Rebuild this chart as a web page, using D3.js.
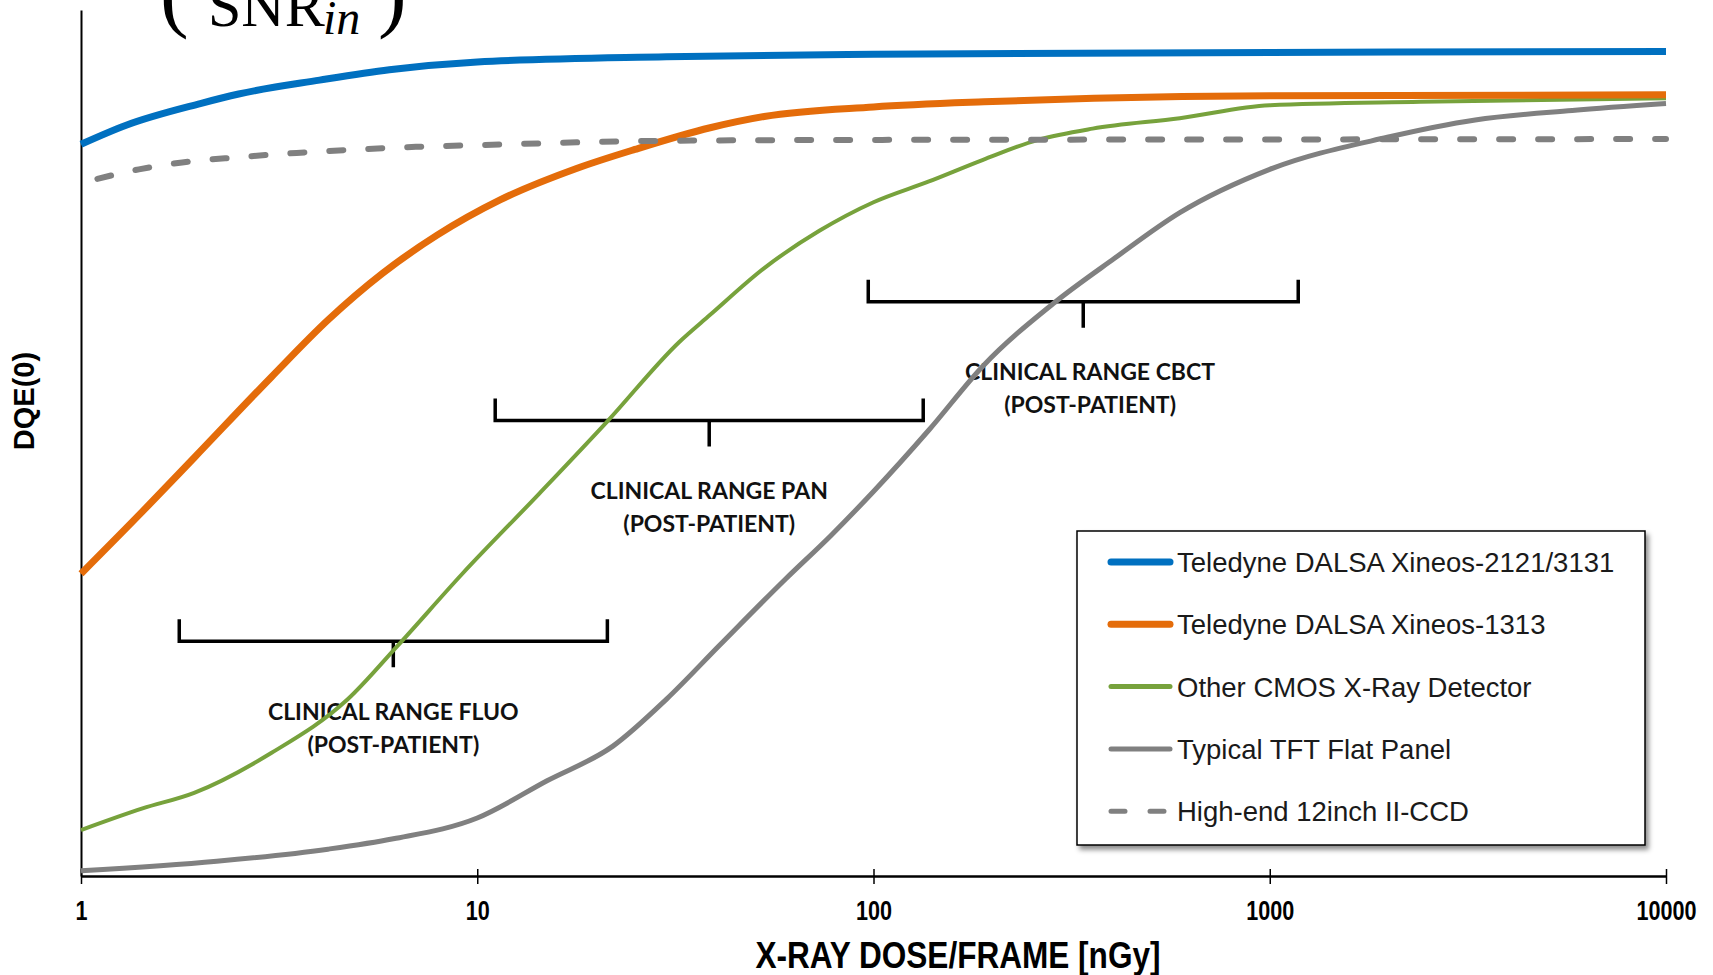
<!DOCTYPE html>
<html><head><meta charset="utf-8">
<script src="https://cdn.jsdelivr.net/npm/d3@7"></script>
<style>
html,body{margin:0;padding:0;background:#fff;}
svg{display:block;}
</style></head>
<body>
<svg id="chart" width="1713" height="975"></svg>
<script>
// ---------- data ----------
const xTicks = [1, 10, 100, 1000, 10000];
const xTitle = "X-RAY DOSE/FRAME [nGy]";
const yTitle = "DQE(0)";

const seriesNames = [
  "Teledyne DALSA Xineos-2121/3131",
  "Teledyne DALSA Xineos-1313",
  "Other CMOS X-Ray Detector",
  "Typical TFT Flat Panel",
  "High-end 12inch II-CCD"
];

const blueDose = [1, 1.3, 2, 2.5, 4, 6, 10, 30, 100, 1000, 10000];
const blueDQE  = [84.5, 86.7, 89.2, 90.3, 91.9, 93.1, 94.0, 94.6, 94.9, 95.1, 95.2];

const orangeDose = [1, 1.43, 1.93, 3.02, 4.2, 5.77, 7.92, 11.45, 17.8, 25, 38.7, 53, 100, 190, 360, 1000, 10000];
const orangeDQE  = [34.9, 42.1, 48.3, 57.6, 64.2, 69.6, 74.0, 78.1, 81.7, 83.9, 86.4, 87.7, 88.8, 89.4, 89.8, 90.1, 90.2];

const greenDose = [1, 1.43, 1.93, 3.02, 4.71, 6.3, 9.17, 14.3, 21.3, 32.4, 38.7, 53, 73, 100, 138, 189, 260, 357, 593, 1000, 2400, 10000];
const greenDQE  = [5.3, 7.8, 9.6, 14.2, 20.4, 26.6, 34.9, 44.1, 52.5, 61.7, 64.8, 70.2, 74.5, 77.8, 80.2, 82.7, 85.0, 86.3, 87.5, 89.0, 89.4, 89.8];

const grayDose = [1, 2.2, 4.2, 6.14, 10, 15, 22, 30, 41, 60, 78, 100, 138, 189, 286, 405, 593, 1000, 1980, 3300, 5800, 10000];
const grayDQE  = [0.6, 1.7, 3.1, 4.3, 6.7, 11.0, 15.0, 20.4, 26.7, 34.3, 39.3, 44.4, 51.5, 58.9, 66.2, 71.3, 76.6, 81.6, 85.3, 87.3, 88.4, 89.2];

const dashDose = [1.1, 1.4, 1.8, 2.5, 3.5, 5, 7, 10, 30, 100, 1000, 10000];
const dashDQE  = [80.5, 81.6, 82.4, 83.0, 83.5, 83.9, 84.2, 84.4, 84.9, 85.0, 85.05, 85.1];

const bracketNames = ["CLINICAL RANGE FLUO", "CLINICAL RANGE PAN", "CLINICAL RANGE CBCT"];
const bracketSub   = "(POST-PATIENT)";
const bracketLow   = [1.77, 11.1, 97];
const bracketHigh  = [21.3, 133.5, 1180];
const bracketLevel = [27.1, 52.6, 66.3];
const labelDose    = [6.14, 38.5, 352];

// ---------- setup ----------
const svg = d3.select("#chart");
const x = d3.scaleLog().domain([1, 10000]).range([81, 1666]);
const y = d3.scaleLinear().domain([0, 100]).range([876, 10]);

const styles = [
  {color: "#0070C0", width: 7,   dash: null},
  {color: "#E46C0A", width: 7,   dash: null},
  {color: "#77A23C", width: 4,   dash: null},
  {color: "#808080", width: 5,   dash: null},
  {color: "#808080", width: 6,   dash: "14 25"}
];
const seriesData = [
  d3.zip(blueDose, blueDQE),
  d3.zip(orangeDose, orangeDQE),
  d3.zip(greenDose, greenDQE),
  d3.zip(grayDose, grayDQE),
  d3.zip(dashDose, dashDQE)
];

// ---------- top formula fragment ----------
const f = svg.append("g").attr("fill", "#000").attr("font-family", "'Liberation Serif', 'Times New Roman', serif");
f.append("text").attr("x", 160).attr("y", 21).attr("font-size", 86).text("(");
f.append("text").attr("x", 208).attr("y", 26).attr("font-size", 60).text("SNR");
f.append("text").attr("x", 323).attr("y", 34).attr("font-size", 48).attr("font-style", "italic").text("in");
f.append("text").attr("x", 378).attr("y", 21).attr("font-size", 86).text(")");

// ---------- axes ----------
const xAxis = d3.axisBottom(x).tickValues(xTicks).tickFormat(d => String(d))
  .tickSizeInner(8).tickSizeOuter(0).tickPadding(17);
const gx = svg.append("g").attr("transform", `translate(0,${y(0)})`).call(xAxis);
gx.select(".domain").attr("stroke", "#000").attr("stroke-width", 2.5);
gx.selectAll(".tick line").attr("stroke", "#000").attr("stroke-width", 1.5).attr("y1", -7).attr("y2", 8);
gx.selectAll(".tick text")
  .attr("fill", "#000")
  .attr("font-family", "'Liberation Sans', Arial, sans-serif")
  .attr("font-weight", "bold").attr("font-size", 27)
  .attr("transform", "scale(0.8,1)");

const yAxis = d3.axisLeft(y).tickValues([]).tickSizeOuter(0);
const gy = svg.append("g").attr("transform", `translate(${x(1)},0)`).call(yAxis);
gy.select(".domain").attr("stroke", "#000").attr("stroke-width", 2);

svg.append("text")
  .attr("x", 958).attr("y", 968).attr("text-anchor", "middle")
  .attr("font-family", "'Liberation Sans', Arial, sans-serif")
  .attr("font-weight", "bold").attr("font-size", 36)
  .attr("textLength", 405).attr("lengthAdjust", "spacingAndGlyphs")
  .text(xTitle);

svg.append("text")
  .attr("transform", "translate(24,401) rotate(-90)")
  .attr("text-anchor", "middle").attr("dy", "0.35em")
  .attr("font-family", "'Liberation Sans', Arial, sans-serif")
  .attr("font-weight", "bold").attr("font-size", 29)
  .text(yTitle);

// ---------- brackets ----------
const bg = svg.append("g");
bracketNames.forEach((name, i) => {
  const x0 = x(bracketLow[i]), x1 = x(bracketHigh[i]);
  const xc = x(Math.sqrt(bracketLow[i] * bracketHigh[i]));
  const xl = x(labelDose[i]);
  const yl = y(bracketLevel[i]);
  bg.append("path")
    .attr("d", `M${x0},${yl - 22}V${yl}H${x1}V${yl - 22}M${xc},${yl}V${yl + 26}`)
    .attr("fill", "none").attr("stroke", "#000").attr("stroke-width", 3.5);
  const t = bg.append("text").attr("text-anchor", "middle")
    .attr("font-family", "Lato, 'Open Sans', sans-serif").attr("font-weight", 700)
    .attr("font-size", 23).attr("fill", "#111");
  t.append("tspan").attr("x", xl).attr("y", yl + 78.5).text(name);
  t.append("tspan").attr("x", xl).attr("y", yl + 111.5).text(bracketSub);
});

// ---------- lines ----------
const line = d3.line().x(d => x(d[0])).y(d => y(d[1])).curve(d3.curveMonotoneX);
const drawOrder = [3, 2, 1, 0, 4];
drawOrder.forEach(i => {
  const p = svg.append("path").datum(seriesData[i])
    .attr("d", line).attr("fill", "none")
    .attr("stroke", styles[i].color).attr("stroke-width", styles[i].width)
    .attr("stroke-linejoin", "round");
  if (styles[i].dash) p.attr("stroke-dasharray", styles[i].dash).attr("stroke-linecap", "round");
});

// ---------- legend ----------
const defs = svg.append("defs");
const filt = defs.append("filter").attr("id", "shadow").attr("x", "-5%").attr("y", "-5%").attr("width", "115%").attr("height", "115%");
filt.append("feDropShadow").attr("dx", 3).attr("dy", 4).attr("stdDeviation", 2.5)
  .attr("flood-color", "#000").attr("flood-opacity", 0.45);

const lg = svg.append("g").attr("transform", "translate(1077,531)");
lg.append("rect").attr("width", 568).attr("height", 314)
  .attr("fill", "#fff").attr("stroke", "#000").attr("stroke-width", 1.5)
  .attr("filter", "url(#shadow)");
seriesNames.forEach((name, i) => {
  const ry = 31 + i * 62.3;
  const l = lg.append("line").attr("x1", 34).attr("x2", 93).attr("y1", ry).attr("y2", ry)
    .attr("stroke", styles[i].color).attr("stroke-width", styles[i].width === 7 ? 7 : 5)
    .attr("stroke-linecap", "round");
  if (styles[i].dash) l.attr("stroke-dasharray", "14 25");
  lg.append("text").attr("x", 100).attr("y", ry).attr("dy", "0.36em")
    .attr("font-family", "'Liberation Sans', Arial, sans-serif").attr("font-size", 27.5)
    .attr("fill", "#1a1a1a").text(name);
});
</script>
</body></html>
